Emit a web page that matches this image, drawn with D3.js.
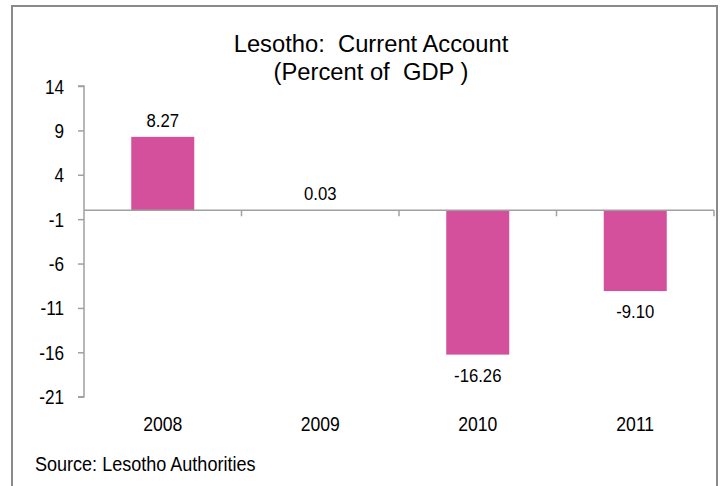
<!DOCTYPE html>
<html>
<head>
<meta charset="utf-8">
<script src="https://cdn.jsdelivr.net/npm/d3@7"></script>
<style>
  html, body { margin: 0; padding: 0; background: #fff; }
  svg { display: block; }
  text { font-family: "Liberation Sans", Arial, sans-serif; fill: #000; white-space: pre; }
</style>
</head>
<body>
<svg id="chart" width="721" height="486"></svg>
<script>
const years = ["2008", "2009", "2010", "2011"];
const values = [8.27, 0.03, -16.26, -9.10];
const yTicks = [14, 9, 4, -1, -6, -11, -16, -21];
const titleLines = ["Lesotho:  Current Account", "(Percent of  GDP )"];
const sourceText = "Source: Lesotho Authorities";

const plot = { left: 84, right: 714, top: 86, bottom: 396.7 };
const SX = 0.88;      // narrow-font emulation
const svg = d3.select("#chart");

// frame
svg.append("rect")
  .attr("x", 12).attr("y", 6).attr("width", 705).attr("height", 500)
  .attr("fill", "none").attr("stroke", "#8a8a8a").attr("stroke-width", 2);

const x = d3.scaleBand().domain(years).range([plot.left, plot.right]).padding(0);
const y = d3.scaleLinear().domain([-21, 14]).range([plot.bottom, plot.top]);
const barW = x.bandwidth() * 0.4;
const axisColor = "#a0a0a0";

function place(sel, fx, fy, sx) {
  return sel.attr("transform", (d, i) => `translate(${fx(d, i)},${fy(d, i)}) scale(${sx},1)`);
}

// title
place(svg.append("g").selectAll("text").data(titleLines).join("text"),
      () => 371, (d, i) => 52 + i * 28, 0.99)
  .attr("text-anchor", "middle").style("font-size", "24px")
  .text(d => d);

// y axis
const yAxis = d3.axisLeft(y).tickValues(yTicks).tickSize(6).tickPadding(13).tickFormat(d => String(d));
const gy = svg.append("g").attr("transform", `translate(${plot.left},0)`).call(yAxis);
gy.select(".domain").attr("stroke", axisColor).attr("stroke-width", 1.5)
  .attr("d", `M-6,${y(14)}H0V${y(-21)}H-6`);
gy.selectAll(".tick line").attr("stroke", axisColor).attr("stroke-width", 1.5);
gy.selectAll(".tick text").attr("x", null).attr("dy", "0.36em")
  .attr("transform", `translate(-20,0) scale(${SX},1)`)
  .style("font-size", "19.5px");

// bars
svg.append("g").selectAll("rect").data(values).join("rect")
  .attr("x", (d, i) => x(years[i]) + (x.bandwidth() - barW) / 2)
  .attr("width", barW)
  .attr("y", d => y(Math.max(0, d)))
  .attr("height", d => Math.abs(y(d) - y(0)))
  .attr("fill", "#d4509c");

// x axis at zero
const gx = svg.append("g").attr("transform", `translate(0,${y(0)})`);
gx.append("line").attr("x1", plot.left).attr("x2", plot.right)
  .attr("stroke", axisColor).attr("stroke-width", 1.5);
gx.selectAll("line.tk").data(years).join("line").attr("class", "tk")
  .attr("x1", d => x(d) + x.bandwidth()).attr("x2", d => x(d) + x.bandwidth())
  .attr("y1", 0).attr("y2", 6)
  .attr("stroke", axisColor).attr("stroke-width", 1.5);

// category labels
place(svg.append("g").selectAll("text").data(years).join("text"),
      d => x(d) + x.bandwidth() / 2, () => 431, SX)
  .attr("text-anchor", "middle").style("font-size", "20px")
  .text(d => d);

// value labels
place(svg.append("g").selectAll("text").data(values).join("text"),
      (d, i) => x(years[i]) + x.bandwidth() / 2,
      d => d >= 0 ? y(d) - 10 : y(d) + 27, SX)
  .attr("text-anchor", "middle").style("font-size", "19px")
  .text(d => d.toFixed(2));

// source
place(svg.append("g").selectAll("text").data([sourceText]).join("text"),
      () => 35, () => 471, SX)
  .style("font-size", "20.5px").text(d => d);
</script>
</body>
</html>
